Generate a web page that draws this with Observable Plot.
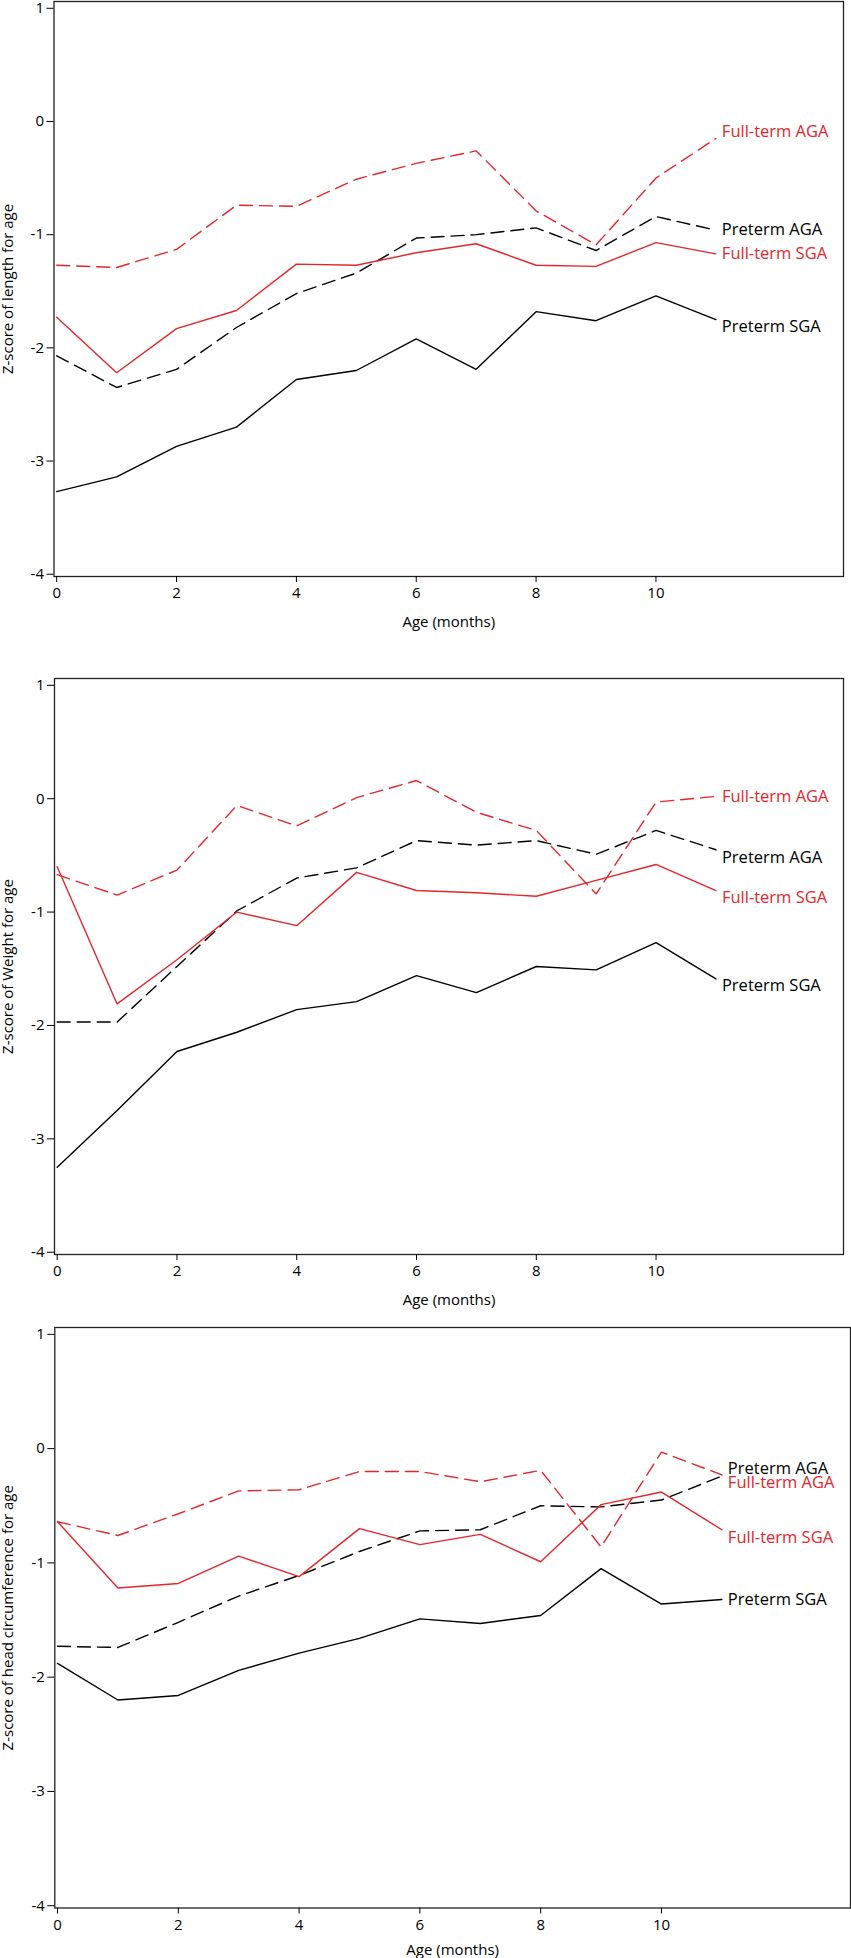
<!DOCTYPE html>
<html>
<head>
<meta charset="utf-8">
<script src="https://cdn.jsdelivr.net/npm/d3@7"></script>
<script src="https://cdn.jsdelivr.net/npm/@observablehq/plot@0.6"></script>
<style>
  html, body { margin: 0; padding: 0; background: #fff; }
  body { width: 851px; height: 1958px; position: relative; overflow: hidden; }
  .panel { position: absolute; left: 0; }
  .panel svg { overflow: visible; }
</style>
</head>
<body>
<div id="p1" class="panel" style="top:0px"></div>
<div id="p2" class="panel" style="top:650px"></div>
<div id="p3" class="panel" style="top:1300px"></div>
<script>
// ---- data ----
const months = [0, 1, 2, 3, 4, 5, 6, 7, 8, 9, 10, 11];
const groups = ["Full-term AGA", "Preterm AGA", "Full-term SGA", "Preterm SGA"];
const xTicks = [0, 2, 4, 6, 8, 10];
const yTicks = [-4, -3, -2, -1, 0, 1];

// Length-for-age
const lengthFullTermAGA = [-1.27, -1.29, -1.13, -0.74, -0.75, -0.51, -0.37, -0.26, -0.79, -1.09, -0.50, -0.15];
const lengthPretermAGA  = [-2.07, -2.35, -2.19, -1.82, -1.52, -1.34, -1.03, -1.00, -0.94, -1.14, -0.84, -0.96];
const lengthFullTermSGA = [-1.73, -2.22, -1.83, -1.67, -1.26, -1.27, -1.16, -1.08, -1.27, -1.28, -1.07, -1.17];
const lengthPretermSGA  = [-3.27, -3.14, -2.87, -2.70, -2.28, -2.20, -1.92, -2.19, -1.68, -1.76, -1.54, -1.75];
const lengthLabelZ      = [-0.09, -0.96, -1.17, -1.81];

// Weight-for-age
const weightFullTermAGA = [-0.67, -0.85, -0.63, -0.06, -0.24, 0.01, 0.16, -0.12, -0.28, -0.84, -0.03, 0.02];
const weightPretermAGA  = [-1.97, -1.97, -1.48, -0.99, -0.70, -0.61, -0.37, -0.41, -0.37, -0.49, -0.28, -0.45];
const weightFullTermSGA = [-0.60, -1.81, -1.42, -1.00, -1.12, -0.65, -0.81, -0.83, -0.86, -0.72, -0.58, -0.81];
const weightPretermSGA  = [-3.25, -2.75, -2.23, -2.06, -1.86, -1.79, -1.56, -1.71, -1.48, -1.51, -1.27, -1.59];
const weightLabelZ      = [0.015, -0.52, -0.87, -1.65];

// Head circumference-for-age
const headFullTermAGA = [-0.64, -0.76, -0.57, -0.37, -0.36, -0.20, -0.20, -0.29, -0.19, -0.86, -0.03, -0.23];
const headPretermAGA  = [-1.73, -1.74, -1.52, -1.29, -1.11, -0.90, -0.72, -0.71, -0.50, -0.51, -0.45, -0.24];
const headFullTermSGA = [-0.64, -1.22, -1.18, -0.94, -1.12, -0.70, -0.84, -0.75, -0.99, -0.49, -0.38, -0.71];
const headPretermSGA  = [-1.88, -2.20, -2.16, -1.94, -1.79, -1.66, -1.49, -1.53, -1.46, -1.05, -1.36, -1.32];
const headLabelZ      = [-0.30, -0.18, -0.78, -1.32];

// ---- styling ----
const RED = "#e3262b";
const styleOf = {
  "Full-term AGA": {stroke: RED, dash: "13,7"},
  "Preterm AGA":   {stroke: "#000", dash: "13,7"},
  "Full-term SGA": {stroke: RED, dash: null},
  "Preterm SGA":   {stroke: "#000", dash: null}
};

function makePanel({series, labelZ, title, marginTop, frameH, marginLeft, marginRight, marginBottom, xLabelOffset}) {
  const marks = [];
  groups.forEach((g, i) => {
    const data = months.map((m, j) => ({month: m, z: series[i][j]}));
    const st = styleOf[g];
    const opts = {x: "month", y: "z", stroke: st.stroke, strokeWidth: 1.4, strokeLinejoin: "miter"};
    if (st.dash) opts.strokeDasharray = st.dash;
    marks.push(Plot.line(data, opts));
  });
  const labels = groups.map((g, i) => ({group: g, month: months[months.length - 1], z: labelZ[i]}));
  marks.push(Plot.text(labels, {
    x: "month", y: "z", text: "group", textAnchor: "start", dx: 6,
    fill: d => styleOf[d.group].stroke, fontSize: 16.5
  }));
  marks.push(Plot.frame({stroke: "#222", strokeWidth: 1.3}));
  marks.push(Plot.axisX({
    ticks: xTicks, tickFormat: d => String(d), tickSize: 6, tickPadding: 5,
    label: "Age (months)", labelAnchor: "center", labelOffset: xLabelOffset, labelArrow: "none"
  }));
  marks.push(Plot.axisY({
    ticks: yTicks, tickFormat: d => String(d), tickSize: 7, tickPadding: 3,
    label: title, labelAnchor: "center", labelOffset: marginLeft - 2, labelArrow: "none"
  }));
  return Plot.plot({
    width: 851,
    height: marginTop + frameH + marginBottom,
    marginTop, marginLeft, marginRight, marginBottom,
    style: {fontFamily: "'Open Sans', 'Liberation Sans', sans-serif", fontSize: "15px", color: "#000", background: "transparent", overflow: "visible"},
    x: {domain: [-0.045, 13.13]},
    y: {domain: [-4.02, 1.06]},
    marks
  });
}

document.getElementById("p1").append(makePanel({
  series: [lengthFullTermAGA, lengthPretermAGA, lengthFullTermSGA, lengthPretermSGA],
  labelZ: lengthLabelZ, title: "Z-score of length for age",
  marginTop: 1, frameH: 575, marginLeft: 53.5, marginRight: 8, marginBottom: 60, xLabelOffset: 50
}));
document.getElementById("p2").append(makePanel({
  series: [weightFullTermAGA, weightPretermAGA, weightFullTermSGA, weightPretermSGA],
  labelZ: weightLabelZ, title: "Z-score of Weight for age",
  marginTop: 28, frameH: 576, marginLeft: 54, marginRight: 8, marginBottom: 60, xLabelOffset: 50
}));
document.getElementById("p3").append(makePanel({
  series: [headFullTermAGA, headPretermAGA, headFullTermSGA, headPretermSGA],
  labelZ: headLabelZ, title: "Z-score of head circumference for age",
  marginTop: 27, frameH: 580.5, marginLeft: 54.3, marginRight: 1, marginBottom: 50.5, xLabelOffset: 47
}));
</script>
</body>
</html>
